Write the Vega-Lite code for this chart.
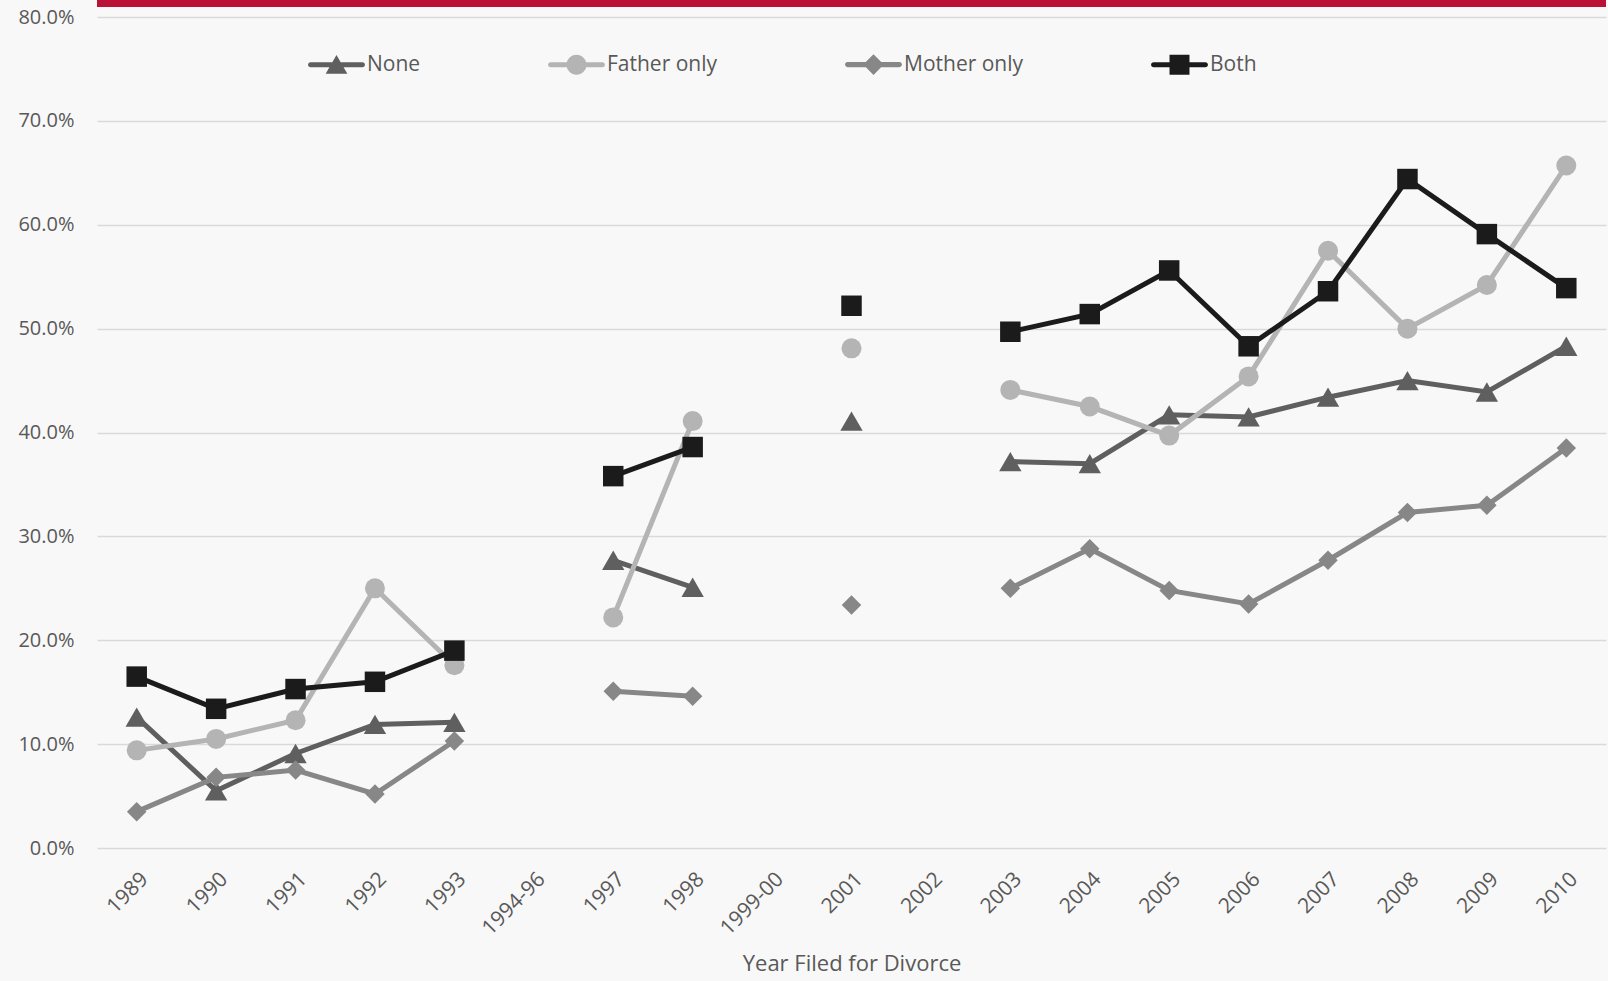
{
  "$schema": "https://vega.github.io/schema/vega-lite/v6.json",
  "width": 1509,
  "height": 831,
  "autosize": {"type": "none"},
  "padding": {"left": 97, "top": 17, "right": 2, "bottom": 133},
  "background": "#f8f8f8",
  "config": {"view": {"stroke": null}, "font": "Open Sans"},
  "datasets": {"rows": [
    {"Year": "1989", "Series": "None", "value": 0.126},
    {"Year": "1990", "Series": "None", "value": 0.055},
    {"Year": "1991", "Series": "None", "value": 0.091},
    {"Year": "1992", "Series": "None", "value": 0.119},
    {"Year": "1993", "Series": "None", "value": 0.121},
    {"Year": "1994-96", "Series": "None", "value": null},
    {"Year": "1997", "Series": "None", "value": 0.277},
    {"Year": "1998", "Series": "None", "value": 0.251},
    {"Year": "1999-00", "Series": "None", "value": null},
    {"Year": "2001", "Series": "None", "value": 0.411},
    {"Year": "2002", "Series": "None", "value": null},
    {"Year": "2003", "Series": "None", "value": 0.372},
    {"Year": "2004", "Series": "None", "value": 0.370},
    {"Year": "2005", "Series": "None", "value": 0.417},
    {"Year": "2006", "Series": "None", "value": 0.415},
    {"Year": "2007", "Series": "None", "value": 0.434},
    {"Year": "2008", "Series": "None", "value": 0.450},
    {"Year": "2009", "Series": "None", "value": 0.439},
    {"Year": "2010", "Series": "None", "value": 0.483},
    {"Year": "1989", "Series": "Father only", "value": 0.094},
    {"Year": "1990", "Series": "Father only", "value": 0.105},
    {"Year": "1991", "Series": "Father only", "value": 0.123},
    {"Year": "1992", "Series": "Father only", "value": 0.250},
    {"Year": "1993", "Series": "Father only", "value": 0.176},
    {"Year": "1994-96", "Series": "Father only", "value": null},
    {"Year": "1997", "Series": "Father only", "value": 0.222},
    {"Year": "1998", "Series": "Father only", "value": 0.411},
    {"Year": "1999-00", "Series": "Father only", "value": null},
    {"Year": "2001", "Series": "Father only", "value": 0.481},
    {"Year": "2002", "Series": "Father only", "value": null},
    {"Year": "2003", "Series": "Father only", "value": 0.441},
    {"Year": "2004", "Series": "Father only", "value": 0.425},
    {"Year": "2005", "Series": "Father only", "value": 0.397},
    {"Year": "2006", "Series": "Father only", "value": 0.454},
    {"Year": "2007", "Series": "Father only", "value": 0.575},
    {"Year": "2008", "Series": "Father only", "value": 0.500},
    {"Year": "2009", "Series": "Father only", "value": 0.542},
    {"Year": "2010", "Series": "Father only", "value": 0.657},
    {"Year": "1989", "Series": "Mother only", "value": 0.035},
    {"Year": "1990", "Series": "Mother only", "value": 0.068},
    {"Year": "1991", "Series": "Mother only", "value": 0.075},
    {"Year": "1992", "Series": "Mother only", "value": 0.052},
    {"Year": "1993", "Series": "Mother only", "value": 0.103},
    {"Year": "1994-96", "Series": "Mother only", "value": null},
    {"Year": "1997", "Series": "Mother only", "value": 0.151},
    {"Year": "1998", "Series": "Mother only", "value": 0.146},
    {"Year": "1999-00", "Series": "Mother only", "value": null},
    {"Year": "2001", "Series": "Mother only", "value": 0.234},
    {"Year": "2002", "Series": "Mother only", "value": null},
    {"Year": "2003", "Series": "Mother only", "value": 0.250},
    {"Year": "2004", "Series": "Mother only", "value": 0.288},
    {"Year": "2005", "Series": "Mother only", "value": 0.248},
    {"Year": "2006", "Series": "Mother only", "value": 0.235},
    {"Year": "2007", "Series": "Mother only", "value": 0.277},
    {"Year": "2008", "Series": "Mother only", "value": 0.323},
    {"Year": "2009", "Series": "Mother only", "value": 0.330},
    {"Year": "2010", "Series": "Mother only", "value": 0.385},
    {"Year": "1989", "Series": "Both", "value": 0.165},
    {"Year": "1990", "Series": "Both", "value": 0.134},
    {"Year": "1991", "Series": "Both", "value": 0.153},
    {"Year": "1992", "Series": "Both", "value": 0.160},
    {"Year": "1993", "Series": "Both", "value": 0.190},
    {"Year": "1994-96", "Series": "Both", "value": null},
    {"Year": "1997", "Series": "Both", "value": 0.358},
    {"Year": "1998", "Series": "Both", "value": 0.386},
    {"Year": "1999-00", "Series": "Both", "value": null},
    {"Year": "2001", "Series": "Both", "value": 0.522},
    {"Year": "2002", "Series": "Both", "value": null},
    {"Year": "2003", "Series": "Both", "value": 0.497},
    {"Year": "2004", "Series": "Both", "value": 0.514},
    {"Year": "2005", "Series": "Both", "value": 0.556},
    {"Year": "2006", "Series": "Both", "value": 0.483},
    {"Year": "2007", "Series": "Both", "value": 0.536},
    {"Year": "2008", "Series": "Both", "value": 0.644},
    {"Year": "2009", "Series": "Both", "value": 0.591},
    {"Year": "2010", "Series": "Both", "value": 0.539}
  ], "band": [{"level": 0.813}]},
  "layer": [
    {
      "data": {"name": "band"},
      "mark": {"type": "rule", "color": "#ba1237", "strokeWidth": 7, "clip": false},
      "encoding": {"y": {"field": "level", "type": "quantitative"}}
    },
    {
      "data": {"name": "rows"},
      "mark": {"type": "line", "strokeWidth": 5, "invalid": "break-paths-show-domains"},
      "encoding": {
        "x": {
          "field": "Year", "type": "nominal",
          "scale": {"type": "point", "padding": 0.5, "domain": ["1989","1990","1991","1992","1993","1994-96","1997","1998","1999-00","2001","2002","2003","2004","2005","2006","2007","2008","2009","2010"]},
          "axis": {"labelAngle": -45, "domain": false, "ticks": false, "grid": false, "labelPadding": 20, "labelFontSize": 21, "labelColor": "#595959", "title": "Year Filed for Divorce", "titleFontSize": 22, "titleFontWeight": "normal", "titleColor": "#595959", "titlePadding": 15}
        },
        "y": {
          "field": "value", "type": "quantitative",
          "scale": {"domain": [0, 0.8], "nice": false, "zero": true},
          "axis": {"format": ".1%", "values": [0, 0.1, 0.2, 0.3, 0.4, 0.5, 0.6, 0.7, 0.8], "domain": false, "ticks": false, "labelPadding": 23, "labelFontSize": 20, "labelColor": "#595959", "gridColor": "#d9d9d9", "gridWidth": 1.5, "title": null}
        },
        "color": {
          "field": "Series", "type": "nominal",
          "scale": {"domain": ["None", "Father only", "Mother only", "Both"], "range": ["#5f5f5f", "#b4b4b4", "#878787", "#1b1b1b"]},
          "legend": {
            "orient": "none", "legendX": 211, "legendY": 19, "direction": "horizontal", "title": null,
            "symbolSize": 3249, "symbolStrokeWidth": 0, "labelFontSize": 21, "labelColor": "#595959",
            "labelOffset": 2, "columnPadding": 127, "padding": 0,
            "encode": {"symbols": {"update": {
              "shape": {"signal": "datum.value === 'None' ? 'M-0.91,-0.088 L0.91,-0.088 A0.088,0.088 0 0,1 0.91,0.088 L-0.91,0.088 A0.088,0.088 0 0,1 -0.91,-0.088 Z M0,-0.34 L0.38,0.32 L-0.38,0.32 Z' : datum.value === 'Father only' ? 'M-0.91,-0.088 L0.91,-0.088 A0.088,0.088 0 0,1 0.91,0.088 L-0.91,0.088 A0.088,0.088 0 0,1 -0.91,-0.088 Z M-0.35,0 A0.35,0.35 0 1,1 0.35,0 A0.35,0.35 0 1,1 -0.35,0 Z' : datum.value === 'Mother only' ? 'M-0.91,-0.088 L0.91,-0.088 A0.088,0.088 0 0,1 0.91,0.088 L-0.91,0.088 A0.088,0.088 0 0,1 -0.91,-0.088 Z M0,-0.36 L0.36,0 L0,0.36 L-0.36,0 Z' : 'M-0.91,-0.088 L0.91,-0.088 A0.088,0.088 0 0,1 0.91,0.088 L-0.91,0.088 A0.088,0.088 0 0,1 -0.91,-0.088 Z M-0.35,-0.35 L0.35,-0.35 L0.35,0.35 L-0.35,0.35 Z'"},
              "size": {"value": 3249},
              "fill": {"scale": "color", "field": "value"},
              "fillOpacity": {"value": 1},
              "strokeWidth": {"value": 0}
            }}}
          }
        }
      }
    },
    {
      "data": {"name": "rows"},
      "transform": [{"filter": "datum.Series === 'None' && isValid(datum.value)"}],
      "mark": {"type": "point", "filled": true, "opacity": 1, "shape": "triangle-up", "size": 500, "color": "#5f5f5f"},
      "encoding": {"x": {"field": "Year", "type": "nominal"}, "y": {"field": "value", "type": "quantitative"}}
    },
    {
      "data": {"name": "rows"},
      "transform": [{"filter": "datum.Series === 'Father only' && isValid(datum.value)"}],
      "mark": {"type": "point", "filled": true, "opacity": 1, "shape": "circle", "size": 400, "color": "#b4b4b4"},
      "encoding": {"x": {"field": "Year", "type": "nominal"}, "y": {"field": "value", "type": "quantitative"}}
    },
    {
      "data": {"name": "rows"},
      "transform": [{"filter": "datum.Series === 'Mother only' && isValid(datum.value)"}],
      "mark": {"type": "point", "filled": true, "opacity": 1, "shape": "diamond", "size": 380, "color": "#878787"},
      "encoding": {"x": {"field": "Year", "type": "nominal"}, "y": {"field": "value", "type": "quantitative"}}
    },
    {
      "data": {"name": "rows"},
      "transform": [{"filter": "datum.Series === 'Both' && isValid(datum.value)"}],
      "mark": {"type": "point", "filled": true, "opacity": 1, "shape": "square", "size": 420, "color": "#1b1b1b"},
      "encoding": {"x": {"field": "Year", "type": "nominal"}, "y": {"field": "value", "type": "quantitative"}}
    }
  ]
}
